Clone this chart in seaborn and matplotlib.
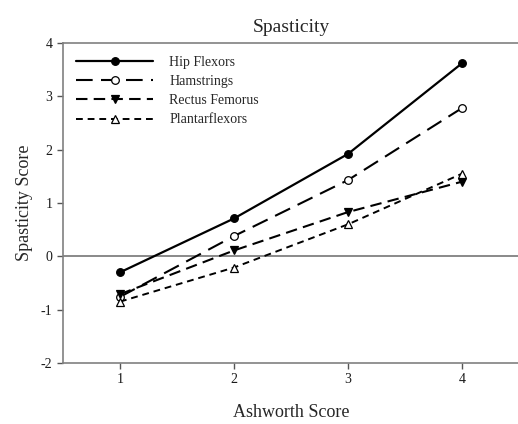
import matplotlib
matplotlib.use("Agg")
import matplotlib.pyplot as plt
import seaborn as sns
import pandas as pd

ashworth = [1, 2, 3, 4]
hip_flexors = [-0.30, 0.71, 1.92, 3.62]
hamstrings = [-0.76, 0.38, 1.43, 2.78]
rectus_femorus = [-0.71, 0.11, 0.83, 1.40]
plantarflexors = [-0.85, -0.21, 0.60, 1.55]

series = {
    "Hip Flexors": hip_flexors,
    "Hamstrings": hamstrings,
    "Rectus Femorus": rectus_femorus,
    "Plantarflexors": plantarflexors,
}
styles = {
    "Hip Flexors": dict(linestyle="-", marker="o", markerfacecolor="black", lw=1.6),
    "Hamstrings": dict(linestyle=(0, (8, 4)), marker="o", markerfacecolor="white", lw=1.5),
    "Rectus Femorus": dict(linestyle=(0, (5.5, 3)), marker="v", markerfacecolor="black", lw=1.5),
    "Plantarflexors": dict(linestyle=(0, (3.5, 2.5)), marker="^", markerfacecolor="white", lw=1.4),
}

sns.set_style("white")
plt.rcParams["font.family"] = ["Liberation Serif", "DejaVu Serif"]
plt.rcParams["axes.unicode_minus"] = False

fig = plt.figure(figsize=(5.18, 4.24), dpi=100)
ax = fig.add_axes([63 / 518, 61 / 424, 456 / 518, 320 / 424])

ax.axhline(0, color="#808080", lw=1.3, zorder=1)

for name, vals in series.items():
    df = pd.DataFrame({"x": ashworth, "y": vals})
    sns.lineplot(data=df, x="x", y="y", ax=ax, color="black",
                 markersize=5.5, markeredgecolor="black", markeredgewidth=0.9,
                 label=name, zorder=3, **styles[name])

ax.set_xlim(0.5, 4.5)
ax.set_ylim(-2, 4)
ax.set_xticks(ashworth)
ax.set_yticks([-2, -1, 0, 1, 2, 3, 4])
ax.tick_params(axis="both", direction="out", length=4, width=1, color="#555555",
               labelsize=10, labelcolor="#1a1a1a", bottom=True, left=True)
for s in ["left", "bottom", "top"]:
    ax.spines[s].set_color("#808080")
    ax.spines[s].set_linewidth(1.2)
ax.spines["right"].set_visible(False)

ax.set_title("Spasticity", fontsize=14, pad=8)
ax.set_xlabel("Ashworth Score", fontsize=13, labelpad=13)
ax.set_ylabel("Spasticity Score", fontsize=13, labelpad=6)

leg = ax.legend(loc="upper left", frameon=False, fontsize=10, handlelength=5.5,
                handletextpad=1.2, labelspacing=0.45, borderaxespad=0.4,
                bbox_to_anchor=(0.005, 0.995))

fig.savefig("out.png", dpi=100)
